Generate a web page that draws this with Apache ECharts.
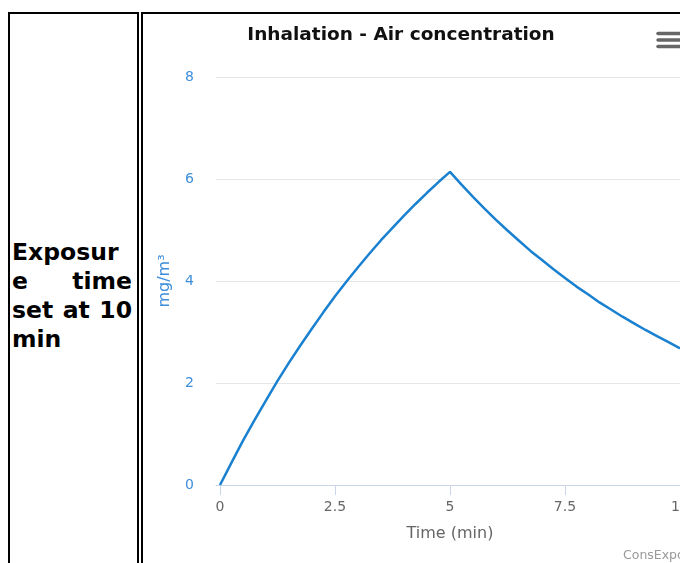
<!DOCTYPE html>
<html>
<head>
<meta charset="utf-8">
<script src="https://cdn.jsdelivr.net/npm/echarts@6/dist/echarts.min.js"></script>
<style>
  html, body { margin: 0; padding: 0; width: 680px; height: 563px; overflow: hidden; background: #fff; }
  .box { position: absolute; border: 2px solid #000; box-sizing: content-box; }
  #leftText {
    position: absolute; left: 12px; top: 238px; width: 120px;
    font-family: "DejaVu Sans", Verdana, sans-serif; font-weight: bold;
    font-size: 23.5px; line-height: 29px; color: #000;
    text-align: justify; overflow-wrap: anywhere;
  }
  #chart { position: absolute; left: 0; top: 0; width: 760px; height: 563px; }
</style>
</head>
<body>
<div class="box" style="left:8px; top:12px; width:127px; height:620px;"></div>
<div class="box" style="left:141px; top:12px; width:700px; height:620px;"></div>
<div id="leftText">Exposure time set at 10 min</div>
<div id="chart"></div>
<script>
// Time (min)
const times = [0, 0.25, 0.5, 0.75, 1, 1.25, 1.5, 1.75, 2, 2.25, 2.5, 2.75, 3, 3.25, 3.5, 3.75, 4, 4.25, 4.5, 4.75, 5,
               5.25, 5.5, 5.75, 6, 6.25, 6.5, 6.75, 7, 7.25, 7.5, 7.75, 8, 8.25, 8.5, 8.75, 9, 9.25, 9.5, 9.75, 10];
// Air concentration (mg/m3)
const conc = [0, 0.44, 0.87, 1.27, 1.66, 2.04, 2.40, 2.74, 3.07, 3.39, 3.70, 3.99, 4.27, 4.54, 4.80, 5.04, 5.28, 5.51, 5.73, 5.94, 6.14,
              5.89, 5.65, 5.42, 5.20, 4.99, 4.79, 4.59, 4.41, 4.23, 4.06, 3.89, 3.74, 3.58, 3.44, 3.30, 3.17, 3.04, 2.92, 2.80, 2.68];
const xTickValues = [0, 2.5, 5, 7.5, 10];

const chart = echarts.init(document.getElementById('chart'), null, { renderer: 'canvas' });
const blue = '#3d8edb';
chart.setOption({
  animation: false,
  backgroundColor: 'transparent',
  textStyle: { fontFamily: 'DejaVu Sans' },
  title: {
    text: 'Inhalation - Air concentration',
    left: 396, top: 21, textAlign: 'center',
    textStyle: { fontSize: 18.5, fontWeight: 'bold', color: '#111', fontFamily: 'DejaVu Sans' }
  },
  grid: { left: 216, top: 77, width: 468, height: 408, containLabel: false },
  xAxis: {
    type: 'value', min: -0.087, max: 10.087,
    name: 'Time (min)', nameLocation: 'middle', nameGap: 41,
    nameTextStyle: { fontSize: 16, color: '#666' },
    axisLine: { show: true, lineStyle: { color: '#ccd6eb', width: 1 } },
    axisTick: { show: true, length: 10, customValues: xTickValues, lineStyle: { color: '#ccd6eb' } },
    axisLabel: { customValues: xTickValues, margin: 15, fontSize: 14, color: '#666' },
    splitLine: { show: false }
  },
  yAxis: {
    type: 'value', min: 0, max: 8, interval: 2,
    name: 'mg/m³', nameLocation: 'middle', nameGap: 43, nameRotate: 90,
    nameTextStyle: { fontSize: 16, color: blue },
    axisLine: { show: false }, axisTick: { show: false },
    axisLabel: { margin: 22, fontSize: 14, color: blue },
    splitLine: { show: true, lineStyle: { color: '#e6e6e6', width: 1 } }
  },
  series: [{
    type: 'line',
    data: times.map((t, i) => [t, conc[i]]),
    showSymbol: false,
    lineStyle: { color: '#1a80d0', width: 2.5 },
    itemStyle: { color: '#1a80d0' }
  }],
  graphic: [
    { type: 'line', shape: { x1: 658, y1: 33.5, x2: 690, y2: 33.5 }, style: { stroke: '#666', lineWidth: 3.5, lineCap: 'round' } },
    { type: 'line', shape: { x1: 658, y1: 40, x2: 690, y2: 40 }, style: { stroke: '#666', lineWidth: 3.5, lineCap: 'round' } },
    { type: 'line', shape: { x1: 658, y1: 46.5, x2: 690, y2: 46.5 }, style: { stroke: '#666', lineWidth: 3.5, lineCap: 'round' } },
    { type: 'text', style: { text: 'ConsExpo Web', x: 623, y: 556, fill: '#999', fontSize: 12.5, fontFamily: 'DejaVu Sans', verticalAlign: 'middle' } }
  ]
});
</script>
</body>
</html>
